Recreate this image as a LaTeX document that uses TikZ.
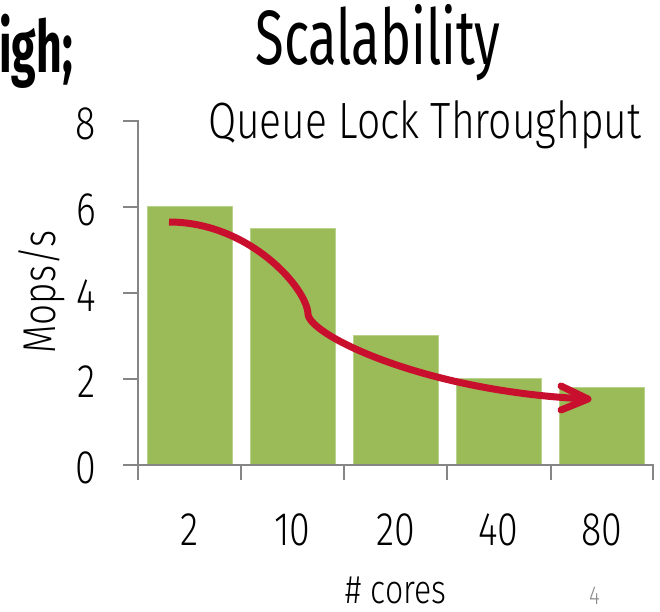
\documentclass[tikz,border=0pt]{standalone}
\usepackage{fontspec}
\setmainfont{Fira Sans}
\newfontfamily\lightf[FakeStretch=0.8]{Fira Sans Light}
\newfontfamily\headf[FakeStretch=0.68]{Fira Sans}
\newfontfamily\heavyf[FakeStretch=0.62]{Fira Sans}

\definecolor{barg}{RGB}{155,187,89}
\definecolor{barline}{RGB}{185,210,140}
\definecolor{arrowred}{RGB}{200,16,46}
\definecolor{axisgray}{RGB}{134,134,134}
\definecolor{pagegray}{RGB}{140,140,140}

\begin{document}
\begin{tikzpicture}[x=1pt,y=-1pt,
  bar/.style={fill=barg, draw=barline, line width=0.8pt, minimum width=85pt,
    inner sep=0pt, anchor=south},
  axisline/.style={draw=axisgray, line width=2pt},
  ylab/.style={font=\lightf\fontsize{47}{47}\selectfont, anchor=east, inner sep=0pt},
  xlab/.style={font=\lightf\fontsize{47}{47}\selectfont, inner sep=0pt},
  trend/.style={draw=arrowred, line width=7pt}]
\useasboundingbox (0,0) rectangle (660,611);

% headings
\node[font=\heavyf\bfseries\fontsize{72}{72}\selectfont, anchor=base east, inner sep=0pt]
  (prev) at (73,72) {igh;};
\node[font=\headf\fontsize{77}{77}\selectfont, anchor=base, inner sep=0pt]
  (title) at (378,64) {Scalability};
\node[font=\lightf\fontsize{51}{51}\selectfont, anchor=base west, inner sep=0pt]
  (sub) at (208,138) {Queue Lock Throughput};

% bars: 43pt per Mops/s, baseline at y=465
\node[bar, minimum height=258pt]   (b1) at (189.5,465) {};
\node[bar, minimum height=236.5pt] (b2) at (292.5,465) {};
\node[bar, minimum height=129pt]   (b3) at (395.5,465) {};
\node[bar, minimum height=86pt]    (b4) at (498.5,465) {};
\node[bar, minimum height=77.4pt]  (b5) at (601.5,465) {};

% axes
\draw[axisline] (123,121) -- (138,121) -- (138,480);
\foreach \yy in {207,293,379} \draw[axisline] (123,\yy) -- (138,\yy);
\draw[axisline] (123,465) -- (653,465) -- (653,480);
\foreach \xx in {240.5,344,447,550.5} \draw[axisline] (\xx,465) -- (\xx,480);

% y tick labels
\node[ylab] (y8) at (96,124) {8};
\node[ylab] (y6) at (96,210) {6};
\node[ylab] (y4) at (96,296) {4};
\node[ylab] (y2) at (96,382) {2};
\node[ylab] (y0) at (96,468) {0};
\node[font=\lightf\fontsize{46}{46}\selectfont, rotate=90, inner sep=0pt]
  (ytitle) at (42,292) {Mops/s};

% x tick labels
\node[xlab] (x1) at (189.5,530) {2};
\node[xlab] (x2) at (292.5,530) {10};
\node[xlab] (x3) at (395.5,530) {20};
\node[xlab] (x4) at (498.5,530) {40};
\node[xlab] (x5) at (601.5,530) {80};
\node[font=\lightf\fontsize{40}{40}\selectfont, anchor=base, inner sep=0pt]
  (xtitle) at (396,603) {\# cores};
\node[font=\lightf\fontsize{26}{26}\selectfont, text=pagegray, anchor=base, inner sep=0pt]
  (pg) at (594.5,604) {4};

% falling-throughput arrow
\coordinate (arrS) at (169,222);
\coordinate (arrK) at (308,314);
\coordinate (arrT) at (588,399);
\draw[trend] (arrS) .. controls (249,222) and (307,288) .. (arrK)
  .. controls (309,335) and (425,392) .. (arrT);
\draw[trend, line cap=round, line join=round]
  (arrT) ++(-27,-13) -- (arrT) -- ++(-27,11);
\end{tikzpicture}
\end{document}
